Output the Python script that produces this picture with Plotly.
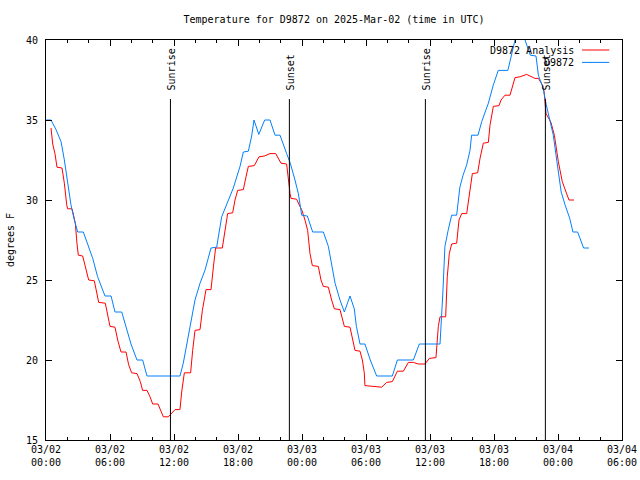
import pandas as pd
import plotly.graph_objects as go

# ---- data (hours since 2025-03-02 00:00 UTC, temperature in F) ----
obs_hours = [0.0, 0.47, 0.94, 1.41, 1.72, 2.03, 2.34, 2.66, 2.97, 3.5, 3.9, 4.38, 4.84, 5.16,
             5.53, 6.1, 6.47, 7.1, 7.5, 7.97, 8.53, 9.06, 9.47, 12.56, 12.87, 13.34, 13.66,
             13.97, 14.44, 14.9, 15.47, 16.0, 16.47, 16.94, 17.56, 18.19, 18.5, 18.97, 19.28,
             19.5, 19.95, 20.5, 21.0, 21.47, 21.94, 22.56, 22.9, 23.34, 23.66, 23.97, 24.5,
             25.0, 26.0, 26.47, 26.78, 27.1, 27.56, 27.97, 28.5, 28.9, 29.1, 29.44, 29.9,
             30.4, 31.0, 32.47, 32.94, 34.44, 35.0, 36.94, 37.19, 37.4, 37.7, 38.03, 38.5,
             38.8, 39.1, 39.44, 39.75, 39.9, 40.5, 40.85, 41.47, 41.94, 42.4, 43.3, 43.97,
             44.3, 44.6, 44.91, 45.4, 45.94, 46.16, 46.6, 46.9, 47.25, 47.56, 47.9, 48.3,
             48.66, 49.1, 49.4, 49.84, 50.4, 50.9]
obs_temps = [35.0, 35.0, 34.4, 33.65, 32.5, 31.0, 29.7, 28.75, 28.0, 28.0, 27.3, 26.35, 25.2, 24.6,
             24.0, 24.0, 23.0, 23.0, 22.0, 21.0, 20.0, 20.0, 19.0, 19.0, 19.8, 21.45, 22.7,
             23.75, 24.8, 25.6, 27.0, 27.05, 28.95, 29.7, 30.75, 32.1, 33.0, 33.05, 34.0,
             35.0, 34.1, 35.0, 35.0, 34.05, 34.05, 32.9, 32.3, 31.25, 30.4, 29.05, 29.0,
             28.0, 28.0, 27.1, 26.05, 24.8, 23.75, 23.0, 24.0, 23.2, 22.1, 21.0, 21.0,
             20.0, 19.0, 19.0, 20.0, 20.0, 21.0, 21.0, 24.0, 27.1, 28.1, 29.05, 29.05,
             30.8, 31.55, 32.2, 33.1, 34.05, 34.05, 34.9, 36.05, 37.2, 38.1, 38.1, 40.0,
             40.5, 40.5, 40.0, 39.05, 39.0, 37.8, 37.0, 35.95, 35.0, 34.05, 32.4, 30.5,
             29.7, 28.85, 28.0, 28.0, 27.0, 27.0]

ana_hours = [0.47, 0.63, 0.84, 1.03, 1.5, 1.72, 1.94, 2.03, 2.44, 2.75, 2.9, 3.03, 3.44, 3.75,
             4.0, 4.53, 4.75, 4.94, 5.56, 5.78, 6.0, 6.47, 6.72, 7.03, 7.5, 7.75, 8.03, 8.53,
             8.84, 9.06, 9.47, 9.75, 10.0, 10.5, 11.0, 11.47, 11.78, 12.1, 12.56, 12.72,
             12.97, 13.56, 13.75, 13.97, 14.44, 14.66, 15.0, 15.47, 15.69, 15.9, 16.53,
             16.78, 17.03, 17.5, 17.72, 17.97, 18.5, 18.75, 18.97, 19.53, 19.97, 20.47,
             21.0, 21.53, 22.03, 22.56, 22.7, 22.88, 22.97, 23.5, 23.8, 23.97, 24.28, 24.53,
             24.75, 24.97, 25.53, 25.78, 26.0, 26.47, 26.78, 27.03, 27.56, 27.78, 27.97,
             28.5, 28.72, 28.97, 29.44, 29.66, 29.84, 29.9, 31.47, 31.94, 32.47, 32.94,
             33.5, 33.97, 34.44, 34.9, 35.53, 35.94, 36.56, 36.78, 36.94, 37.47, 37.62,
             37.81, 38.03, 38.5, 38.72, 38.97, 39.44, 39.75, 39.97, 40.47, 40.69, 41.0,
             41.47, 41.63, 41.94, 42.47, 42.66, 43.03, 43.5, 43.97, 44.44, 45.06, 45.84,
             46.16, 46.53, 46.69, 46.78, 46.88, 47.34, 47.66, 48.03, 48.4, 48.75, 49.03, 49.5]
ana_temps = [34.5, 33.5, 32.9, 32.05, 32.0, 31.05, 29.7, 29.45, 29.45, 28.55, 27.3, 26.55, 26.5, 25.6,
             25.0, 24.95, 24.15, 23.6, 23.55, 22.9, 22.1, 22.05, 21.25, 20.5, 20.5, 19.7, 19.2, 19.15,
             18.65, 18.1, 18.1, 17.7, 17.25, 17.25, 16.45, 16.45, 16.7, 16.9, 16.9, 18.0,
             19.2, 19.2, 20.6, 21.85, 21.9, 23.1, 24.4, 24.4, 25.8, 27.0, 27.0,
             28.1, 29.15, 29.2, 30.0, 30.6, 30.65, 31.45, 32.1, 32.15, 32.7, 32.75,
             32.9, 32.9, 32.3, 32.25, 31.25, 30.4, 30.1, 30.05, 29.6, 29.4, 28.75, 28.1,
             26.65, 25.9, 25.85, 25.0, 24.6, 24.55, 23.75, 23.2, 23.15, 22.6, 22.1,
             22.05, 21.25, 20.6, 20.55, 20.0, 19.2, 18.4, 18.3, 18.6, 18.65, 19.3,
             19.3, 19.85, 19.85, 19.75, 19.75, 20.1, 20.15, 22.1, 22.7, 22.7, 25.2,
             26.65, 27.25, 27.3, 28.75, 29.15, 29.15, 30.5, 31.65, 31.7, 32.6, 33.55,
             33.6, 34.7, 35.85, 35.9, 36.25, 36.55, 36.55, 37.65, 37.7, 37.85, 37.6,
             37.6, 37.2, 36.8, 35.95, 35.4, 34.85, 34.05, 32.4, 31.15, 30.5, 30.0, 30.0]

event_labels = ["Sunrise", "Sunset", "Sunrise", "Sunset"]
event_times = ["2025-03-02 11:40", "2025-03-02 22:49", "2025-03-03 11:34", "2025-03-03 22:49"]

series_names = ["D9872 Analysis", "D9872"]
series_colors = ["#ff0000", "#0080ff"]

start = pd.Timestamp("2025-03-02 00:00")
end = pd.Timestamp("2025-03-04 06:00")
major_ticks = pd.date_range(start, end, freq="6h")
minor_ticks = pd.date_range(start, end, freq="2h")
tick_text = [t.strftime("%m/%d") + "<br>" + t.strftime("%H:%M") for t in major_ticks]

FONT = dict(family="DejaVu Sans Mono", size=10, color="black")

fig = go.Figure()
fig.add_trace(go.Scatter(x=start + pd.to_timedelta(ana_hours, unit="h"), y=ana_temps,
                         mode="lines", name=series_names[0],
                         line=dict(color=series_colors[0], width=1)))
fig.add_trace(go.Scatter(x=start + pd.to_timedelta(obs_hours, unit="h"), y=obs_temps,
                         mode="lines", name=series_names[1],
                         line=dict(color=series_colors[1], width=1)))

# sunrise / sunset markers
for lab, t in zip(event_labels, event_times):
    fig.add_shape(type="line", xref="x", yref="paper", x0=t, x1=t, y0=0, y1=0.8525,
                  line=dict(color="black", width=1))
    fig.add_annotation(x=t, xref="x", y=0.87, yref="paper", text=lab, textangle=-90,
                       showarrow=False, xanchor="center", yanchor="bottom", font=FONT,
                       xshift=1)

# gnuplot-style key (text right-justified, sample line on the right)
key_y = [0.975, 0.944]
for name, col, ky in zip(series_names, series_colors, key_y):
    fig.add_annotation(x=0.921, xref="paper", y=ky, yref="paper", text=name,
                       showarrow=False, xanchor="right", yanchor="middle", font=FONT)
    fig.add_shape(type="line", xref="paper", yref="paper", x0=0.9306, x1=0.978,
                  y0=ky, y1=ky, line=dict(color=col, width=1))

fig.update_layout(
    width=640, height=480,
    margin=dict(l=46, r=18, t=40, b=40),
    paper_bgcolor="white", plot_bgcolor="white",
    font=FONT,
    showlegend=False,
    title=dict(text="Temperature for D9872 on 2025-Mar-02 (time in UTC)",
               x=0.5, xref="paper", xanchor="center", y=1 - 19 / 480, yanchor="middle",
               font=FONT),
)
fig.update_xaxes(range=[start, end], tickmode="array", tickvals=major_ticks, ticktext=tick_text,
                 ticks="inside", ticklen=6, tickcolor="black", showline=True, linecolor="black",
                 linewidth=1, mirror="allticks", showgrid=False, zeroline=False, automargin=False,
                 minor=dict(tickmode="array", tickvals=minor_ticks, ticks="inside", ticklen=3,
                            tickcolor="black", showgrid=False),
                 tickfont=FONT)
fig.update_yaxes(range=[15, 40], tickmode="linear", tick0=15, dtick=5,
                 ticks="inside", ticklen=6, tickcolor="black", showline=True, linecolor="black",
                 linewidth=1, mirror="allticks", showgrid=False, zeroline=False, automargin=False,
                 ticklabelstandoff=5,
                 title=dict(text="degrees F", font=FONT, standoff=9), tickfont=FONT)

fig.write_html("out.html")
